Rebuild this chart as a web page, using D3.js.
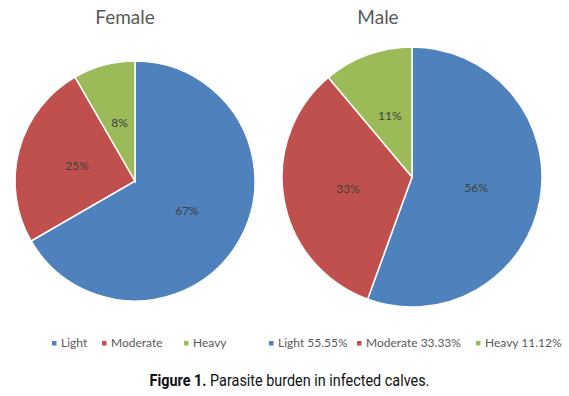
<!DOCTYPE html>
<html>
<head>
<meta charset="utf-8">
<script src="https://d3js.org/d3.v7.min.js"></script>
<style>
  body { margin: 0; background: #fff; }
  svg { display: block; }
</style>
</head>
<body>
<div id="chart"></div>
<script>
// Datos de las dos tortas
const categories = ["Light", "Moderate", "Heavy"];
const femaleValues = [66.67, 25, 8.33];
const maleValues = [55.55, 33.33, 11.12];
const femaleLabels = ["67%", "25%", "8%"];
const maleLabels = ["56%", "33%", "11%"];
const femaleLegend = ["Light", "Moderate", "Heavy"];
const maleLegend = ["Light 55.55%", "Moderate 33.33%", "Heavy 11.12%"];
const colors = ["#4F81BD", "#C0504D", "#9BBB59"];

const width = 569, height = 396;
const svg = d3.select("#chart").append("svg")
    .attr("width", width)
    .attr("height", height);

const color = d3.scaleOrdinal().domain(categories).range(colors);
const pie = d3.pie().sort(null).value(d => d.value);

function drawPie(cfg) {
    const g = svg.append("g").attr("transform", `translate(${cfg.cx},${cfg.cy})`);
    const data = categories.map((c, i) => ({ cat: c, value: cfg.values[i], label: cfg.labels[i] }));
    const arcs = pie(data);
    const arc = d3.arc().innerRadius(0).outerRadius(cfg.r);
    const labelArc = d3.arc().innerRadius(cfg.r * 0.5).outerRadius(cfg.r * 0.5);

    g.selectAll("path")
        .data(arcs)
        .enter().append("path")
        .attr("d", arc)
        .style("fill", d => color(d.data.cat))
        .style("stroke", "#fff")
        .style("stroke-width", "1.5px");

    g.selectAll("text")
        .data(arcs)
        .enter().append("text")
        .attr("transform", d => `translate(${labelArc.centroid(d)})`)
        .attr("text-anchor", "middle")
        .attr("dy", "0.35em")
        .style("font-family", "Lato, 'Open Sans', sans-serif")
        .style("font-size", "12px")
        .style("fill", "#404040")
        .text(d => d.data.label);

    // Titulo
    svg.append("text")
        .attr("x", cfg.titleX)
        .attr("y", 24)
        .attr("text-anchor", "middle")
        .style("font-family", "Lato, 'Open Sans', sans-serif")
        .style("font-size", "19px")
        .style("fill", "#595959")
        .text(cfg.title);

    // Leyenda
    const leg = svg.append("g");
    cfg.legend.forEach((t, i) => {
        const x = cfg.legendX[i];
        leg.append("rect")
            .attr("x", x)
            .attr("y", 341)
            .attr("width", 4.5)
            .attr("height", 4.5)
            .style("fill", colors[i]);
        leg.append("text")
            .attr("x", x + 9)
            .attr("y", 347)
            .style("font-family", "Lato, 'Open Sans', sans-serif")
            .style("font-size", "12px")
            .style("fill", "#595959")
            .text(t);
    });
}

drawPie({
    title: "Female", titleX: 125,
    cx: 135, cy: 181, r: 120,
    values: femaleValues, labels: femaleLabels,
    legend: femaleLegend, legendX: [52, 102, 184]
});

drawPie({
    title: "Male", titleX: 378,
    cx: 412, cy: 177, r: 130,
    values: maleValues, labels: maleLabels,
    legend: maleLegend, legendX: [269, 357, 476]
});

// Pie de figura (fuente condensada simulada con escala horizontal)
const cap = svg.append("text")
    .attr("transform", "translate(289.5,386) scale(0.9,1)")
    .attr("text-anchor", "middle")
    .style("font-family", "Roboto, sans-serif")
    .style("font-size", "16px")
    .style("fill", "#111");
cap.append("tspan").style("font-weight", "bold").text("Figure 1.");
cap.append("tspan").text(" Parasite burden in infected calves.");
</script>
</body>
</html>
